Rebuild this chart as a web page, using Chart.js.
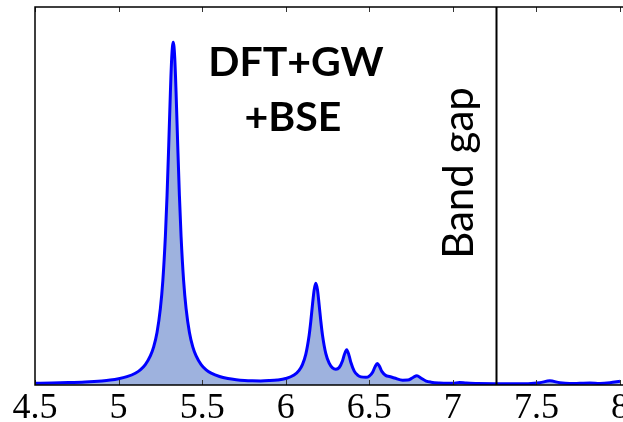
<!DOCTYPE html>
<html>
<head>
<meta charset="utf-8">
<script src="https://cdn.jsdelivr.net/npm/chart.js@4"></script>
<style>
  html, body { margin: 0; padding: 0; background: #fff; overflow: hidden; }
  #wrap { width: 623px; height: 422px; position: relative; }
</style>
</head>
<body>
<div id="wrap"><canvas id="myChart"></canvas></div>
<script>
// photon energy (eV) and absorption (arb. units)
const energy = [4.50,4.60,4.70,4.80,4.90,4.95,5.00,5.05,5.10,5.13,5.16,5.19,5.21,5.23,5.25,5.265,
  5.28,5.29,5.30,5.31,5.318,5.327,5.336,5.344,5.354,5.364,5.374,5.389,5.404,5.424,5.444,5.464,
  5.494,5.524,5.554,5.604,5.654,5.704,5.754,5.80,5.85,5.90,5.95,6.00,6.05,6.08,6.10,6.12,6.14,
  6.15,6.16,6.17,6.18,6.19,6.20,6.21,6.22,6.24,6.26,6.28,6.30,6.32,6.34,6.35,6.365,6.38,6.39,
  6.41,6.43,6.45,6.48,6.50,6.52,6.535,6.548,6.56,6.575,6.60,6.62,6.65,6.70,6.73,6.76,6.785,
  6.81,6.84,6.87,6.92,6.97,7.00,7.04,7.08,7.15,7.25,7.35,7.45,7.52,7.58,7.64,7.70,7.76,7.82,
  7.88,7.94,8.00];
const absorption = [.0047,.0054,.0064,.008,.0108,.013,.0165,.022,.031,.040,.054,.077,.101,.139,.202,.277,
  .393,.501,.633,.774,.866,.907,.866,.774,.633,.501,.393,.277,.202,.139,.101,.077,
  .054,.040,.0315,.0224,.0172,.0141,.0122,.0113,.0109,.0116,.0132,.0171,.0263,.0386,.054,.081,.131,
  .168,.212,.251,.269,.252,.212,.169,.132,.083,.058,.0455,.0419,.0463,.0644,.0793,.0934,.0763,.0595,
  .0367,.0262,.0214,.0203,.0235,.0339,.0486,.057,.0504,.036,.0248,.0225,.0187,.0128,.0132,.0192,.0248,
  .018,.0105,.0075,.0055,.0048,.0048,.0065,.005,.004,.0032,.003,.0035,.006,.011,.006,.004,.0045,.005,
  .004,.006,.010];

const xTicks = [4.5, 5, 5.5, 6, 6.5, 7, 7.5, 8];
const bandGap = 7.257;
const titleLines = ['DFT+GW', '+BSE'];
const bandGapLabel = 'Band gap';

// frame, inward ticks, band gap marker and the text labels
const decorations = {
  id: 'decorations',
  afterDatasetsDraw(chart) {
    const ctx = chart.ctx;
    const area = chart.chartArea;
    const xs = chart.scales.x;
    ctx.save();

    // band gap line
    const bx = Math.round(xs.getPixelForValue(bandGap)) + 0.5;
    ctx.strokeStyle = '#000';
    ctx.lineWidth = 2;
    ctx.beginPath();
    ctx.moveTo(bx, area.top);
    ctx.lineTo(bx, area.bottom);
    ctx.stroke();

    // tick marks pointing inward
    ctx.lineWidth = 1;
    ctx.strokeStyle = '#333';
    xTicks.forEach(v => {
      const px = Math.round(xs.getPixelForValue(v)) + 0.5;
      ctx.beginPath();
      ctx.moveTo(px, area.bottom);
      ctx.lineTo(px, area.bottom - 5);
      ctx.moveTo(px, area.top);
      ctx.lineTo(px, area.top + 5);
      ctx.stroke();
    });

    // frame: top, left, bottom (right edge falls off the picture)
    ctx.strokeStyle = '#000';
    ctx.lineWidth = 1.5;
    ctx.beginPath();
    ctx.moveTo(area.right + 3, area.top);
    ctx.lineTo(area.left, area.top);
    ctx.lineTo(area.left, area.bottom);
    ctx.lineTo(area.right + 3, area.bottom);
    ctx.stroke();

    // method label
    ctx.fillStyle = '#000';
    ctx.font = 'bold 41px Lato';
    ctx.textAlign = 'center';
    ctx.textBaseline = 'alphabetic';
    ctx.fillText(titleLines[0], 296, 76);
    ctx.fillText(titleLines[1], 293, 131);

    // rotated band gap label
    ctx.translate(473, 173);
    ctx.rotate(-Math.PI / 2);
    ctx.font = '42px Lato';
    ctx.fillText(bandGapLabel, 0, 0);
    ctx.restore();
  }
};

const ctx = document.getElementById('myChart').getContext('2d');
const myChart = new Chart(ctx, {
  type: 'line',
  data: {
    datasets: [{
      data: energy.map((e, i) => ({ x: e, y: absorption[i] })),
      borderColor: '#0000ff',
      borderWidth: 3,
      backgroundColor: 'rgb(158, 178, 222)',
      fill: 'origin',
      pointRadius: 0,
      cubicInterpolationMode: 'monotone'
    }]
  },
  options: {
    responsive: true,
    maintainAspectRatio: false,
    animation: false,
    layout: { padding: { left: 35, top: 7, right: 3, bottom: 0 } },
    plugins: { legend: { display: false }, tooltip: { enabled: false } },
    scales: {
      x: {
        type: 'linear',
        min: 4.5,
        max: 8,
        afterBuildTicks: scale => { scale.ticks = xTicks.map(v => ({ value: v })); },
        grid: { display: false, drawTicks: false },
        border: { display: false },
        ticks: {
          color: '#000',
          font: { family: 'Liberation Serif', size: 36 },
          padding: 2,
          maxRotation: 0,
          autoSkip: false,
          callback: v => String(v)
        },
        afterFit: scale => {
          scale.height = 37;
          scale.paddingLeft = 0;
          scale.paddingRight = 0;
        }
      },
      y: {
        display: false,
        min: 0,
        max: 1
      }
    }
  },
  plugins: [decorations]
});
</script>
</body>
</html>
